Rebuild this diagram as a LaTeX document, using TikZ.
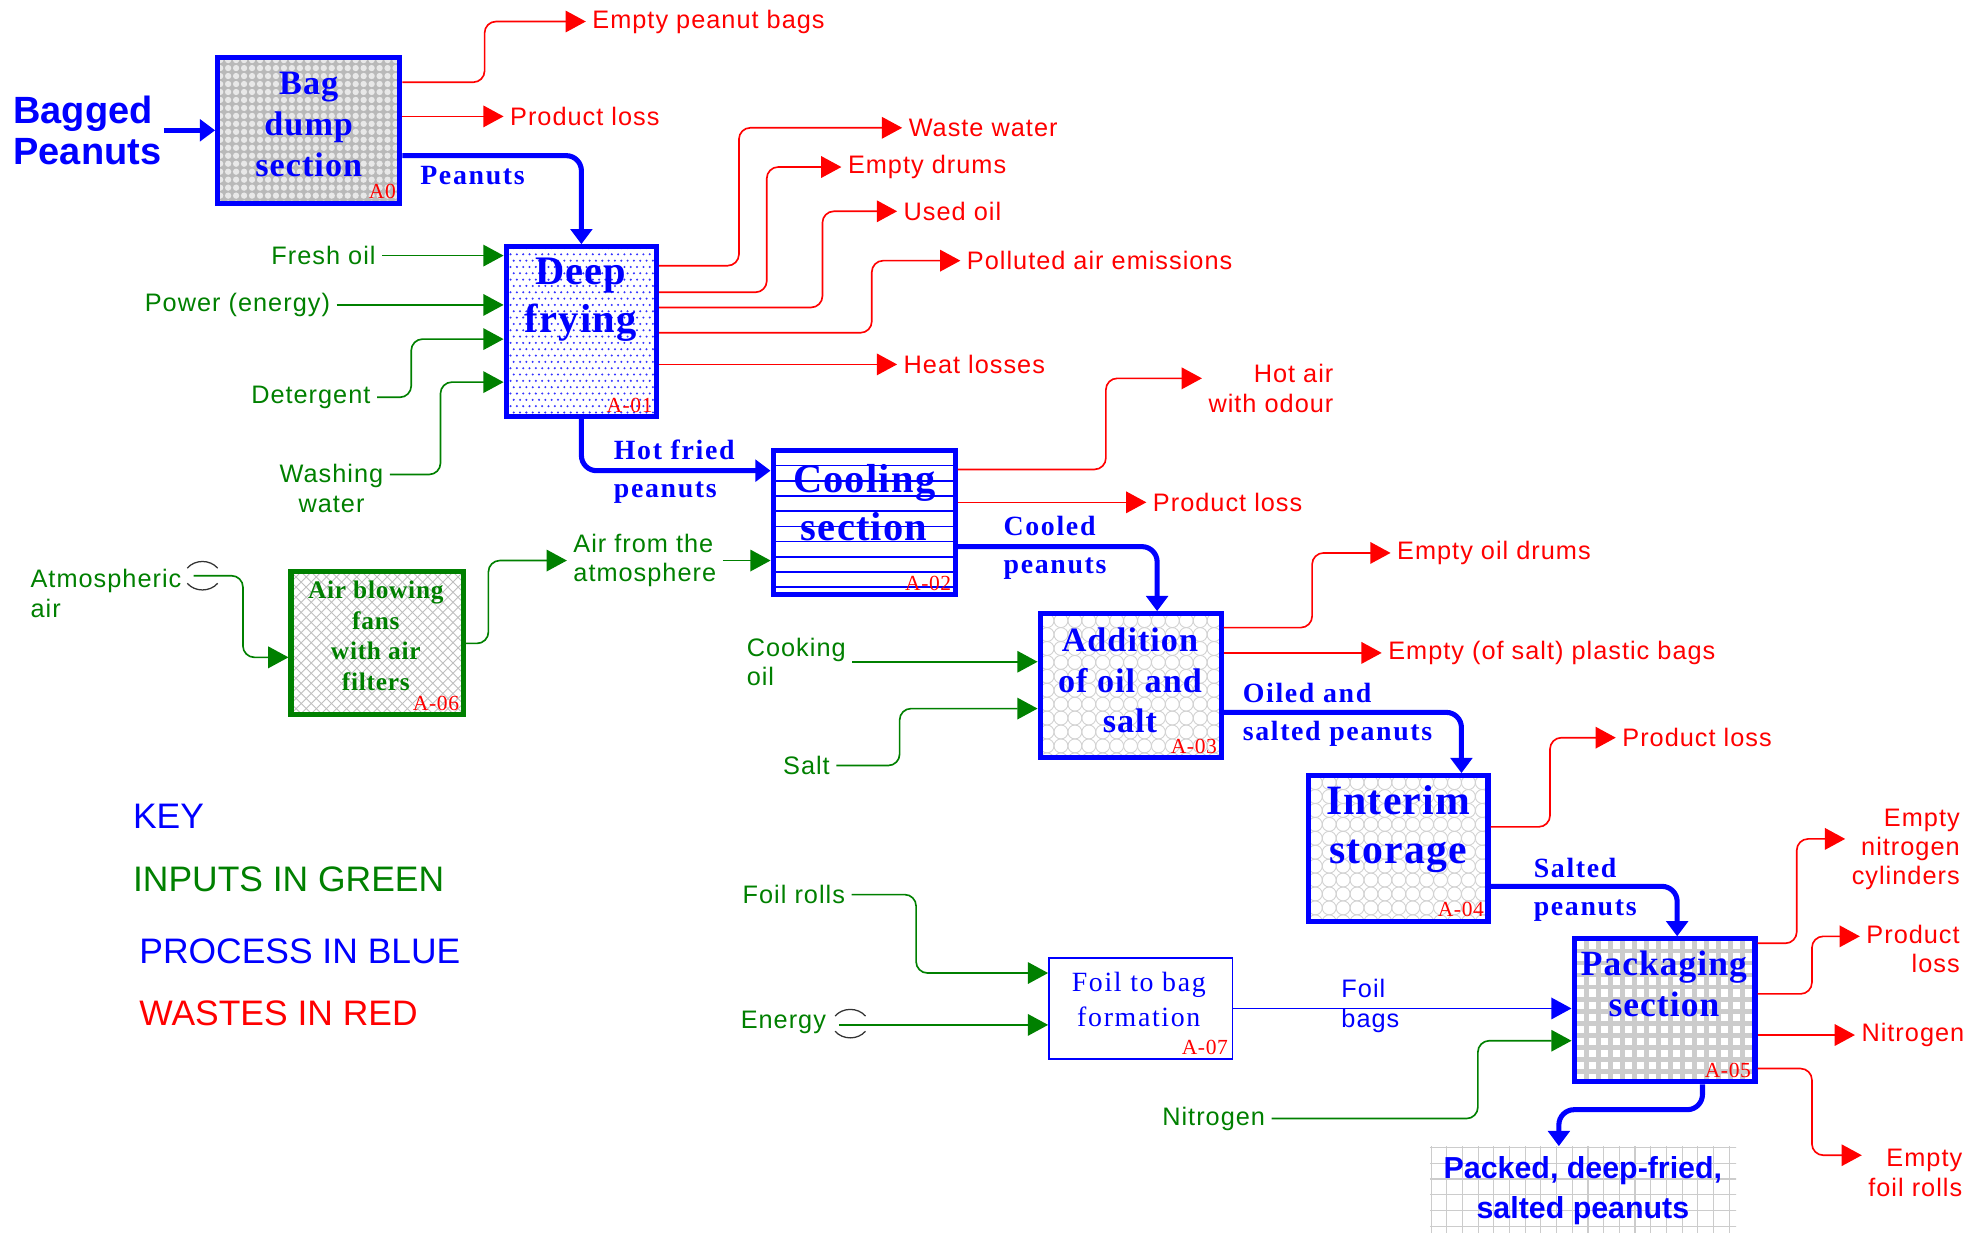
\documentclass[tikz,border=0pt]{standalone}
\usepackage{fontspec}
\setmainfont{Liberation Sans}
\newfontfamily\lblsans{Liberation Sans}[LetterSpace=4]
\newfontfamily\lblserif{Liberation Serif}[LetterSpace=6]
\newfontfamily\ttlserif{Liberation Serif}[LetterSpace=3]
\usetikzlibrary{arrows.meta,positioning}
\definecolor{procblue}{RGB}{0,0,255}
\definecolor{inputgreen}{RGB}{0,128,0}
\definecolor{wastered}{RGB}{255,0,0}

\tikzset{
    box/.style={draw=procblue, line width=4, inner sep=0},
    ttl/.style={text=procblue, align=center, inner sep=0},
    tag/.style={text=wastered, font=\ttlserif\fontsize{17}{17}\selectfont, anchor=south east, inner sep=1},
    wlabel/.style={text=wastered, font=\lblsans\fontsize{20}{23}\selectfont, inner sep=5, align=left},
    ilabel/.style={text=inputgreen, font=\lblsans\fontsize{20}{23}\selectfont, inner sep=5, align=left},
    flabel/.style={text=procblue, font=\lblserif\bfseries\fontsize{22}{30}\selectfont, align=left, anchor=west, inner sep=0},
    keytext/.style={font=\fontsize{28}{32}\selectfont, anchor=west, inner sep=0},
    waste/.style={draw=wastered, line width=1.3, rounded corners=9, -{Triangle[length=16pt,width=17pt]}},
    inflow/.style={draw=inputgreen, line width=1.3, rounded corners=9, -{Triangle[length=16pt,width=17pt]}},
    flow/.style={draw=procblue, line width=4, rounded corners=12, -{Triangle[length=12pt,width=17pt]}},
    thinflow/.style={draw=procblue, line width=1.5, -{Triangle[length=16pt,width=17pt]}},
    % box fillings
    bubbles/.style={fill=gray!55, path picture={
        \foreach \i in {0,...,24} \foreach \j in {0,...,20}
            \fill[gray!18] ([shift={(\i*6.3+2,\j*6.3+2)}]path picture bounding box.north west) circle (2.5);}},
    rings/.style={fill=white, path picture={
        \foreach \i in {0,...,14} \foreach \j in {0,...,11}
            \draw[gray!35, line width=0.7] ([shift={(\i*11+5.5,\j*11+5.5)}]path picture bounding box.north west) circle (5.5);}},
    tiles/.style={fill=gray!40, path picture={
        \foreach \i in {0,...,15} \foreach \j in {0,...,12}
            \fill[white] ([shift={(\i*9.5+2,\j*9.5+2)}]path picture bounding box.north west) rectangle ++(6,6);}},
    lattice/.style={fill=white, path picture={
        \foreach \k in {-20,...,38} {
            \draw[gray!50, line width=0.7] ([shift={(\k*8,0)}]path picture bounding box.north west) -- ++(160,160);
            \draw[gray!50, line width=0.7] ([shift={(\k*8,0)}]path picture bounding box.north west) -- ++(-160,160);}}},
    stripes/.style={fill=white, path picture={
        \foreach \k in {1,...,9}
            \draw[procblue, line width=1.3] ([shift={(0,\k*12)}]path picture bounding box.north west) -- ++(160,0);}},
    meshgrid/.style={fill=white, path picture={
        \foreach \k in {0,...,20}
            \draw[gray!40, line width=0.9] ([shift={(\k*12.4+1,0)}]path picture bounding box.north west) -- ++(0,80);
        \foreach \k in {0,...,6}
            \draw[gray!40, line width=0.9] ([shift={(0,\k*12.4+1)}]path picture bounding box.north west) -- ++(260,0);}},
    dotfill/.style={fill=white, path picture={
        \foreach \i in {0,...,26} \foreach \j in {0,...,14} {
            \fill[procblue!80] ([shift={(\i*5+1,\j*10+1)}]path picture bounding box.north west) circle (0.9);
            \fill[procblue!80] ([shift={(\i*5+3.5,\j*10+6)}]path picture bounding box.north west) circle (0.9);}}}
}

\begin{document}
\begin{tikzpicture}[x=1pt, y=-1pt]

\path[use as bounding box, fill=white] (0,0) rectangle (1568,974);

% Process boxes
\node[box, bubbles, minimum width=144, minimum height=115] (bag) at (244,103) {};
\node[box, dotfill, minimum width=119, minimum height=134] (dfry) at (459.5,262) {};
\node[box, stripes, minimum width=144, minimum height=114] (cool) at (683,413) {};
\node[box, rings, minimum width=143, minimum height=114] (addn) at (893.5,542) {};
\node[box, rings, minimum width=142, minimum height=115] (stor) at (1105,670.5) {};
\node[box, tiles, minimum width=143, minimum height=113] (pack) at (1315.5,798.5) {};
\node[box, lattice, draw=inputgreen, minimum width=136, minimum height=113] (fans) at (298,508.5) {};
\node[box, fill=white, line width=1.3, minimum width=145, minimum height=80] (foil) at (901.5,797) {};
\node[meshgrid, minimum width=242, minimum height=70, text=procblue, align=center,
      font=\bfseries\fontsize{24}{31}\selectfont] (prod) at (1251,941) {Packed, deep-fried,\\salted peanuts};

% Box titles
\node[ttl, font=\ttlserif\bfseries\fontsize{27}{32.5}\selectfont] (bagtxt) at (244,98.5) {Bag\\dump\\section};
\node[ttl, font=\ttlserif\bfseries\fontsize{32}{38}\selectfont] (dfrytxt) at (459,237) {Deep\\frying};
\node[ttl, font=\ttlserif\bfseries\fontsize{32}{38}\selectfont] (cooltxt) at (683,397) {Cooling\\section};
\node[ttl, font=\ttlserif\bfseries\fontsize{27}{32}\selectfont] (addntxt) at (893,538) {Addition\\of oil and\\salt};
\node[ttl, font=\ttlserif\bfseries\fontsize{33}{39}\selectfont] (stortxt) at (1105,655.5) {Interim\\storage};
\node[ttl, font=\ttlserif\bfseries\fontsize{28}{33}\selectfont] (packtxt) at (1315,777.5) {Packaging\\section};
\node[ttl, text=inputgreen, font=\ttlserif\bfseries\fontsize{20}{24}\selectfont] (fanstxt) at (297,502.5) {Air blowing\\fans\\with air\\filters};
\node[ttl, font=\lblserif\fontsize{22}{28}\selectfont] (foiltxt) at (900,790) {Foil to bag\\formation};

% Box tags
\node[tag] (bagtag) at ([xshift=-4pt,yshift=4pt]bag.south east) {A0};
\node[tag] (dfrytag) at ([xshift=-4pt,yshift=4pt]dfry.south east) {A-01};
\node[tag] (cooltag) at ([xshift=-4pt,yshift=4pt]cool.south east) {A-02};
\node[tag] (addntag) at ([xshift=-4pt,yshift=4pt]addn.south east) {A-03};
\node[tag] (stortag) at ([xshift=-4pt,yshift=4pt]stor.south east) {A-04};
\node[tag] (packtag) at ([xshift=-4pt,yshift=4pt]pack.south east) {A-05};
\node[tag] (fanstag) at ([xshift=-4pt,yshift=4pt]fans.south east) {A-06};
\node[tag] (foiltag) at ([xshift=-3pt,yshift=3pt]foil.south east) {A-07};

% Start label and key
\node[text=procblue, font=\bfseries\fontsize{30}{32}\selectfont, align=left, inner sep=2] (bagged) at (69,103) {Bagged\\Peanuts};
\node[keytext, text=procblue] (key) at (105,645) {KEY};
\node[keytext, text=inputgreen] (keyin) at (105,695) {INPUTS IN GREEN};
\node[keytext, text=procblue] (keyproc) at (110,752) {PROCESS IN BLUE};
\node[keytext, text=wastered] (keywaste) at (110,801) {WASTES IN RED};

% Waste labels
\node[wlabel, anchor=west] (epbags) at (463,17) {Empty peanut bags};
\node[wlabel, anchor=west] (ploss0) at (398,92) {Product loss};
\node[wlabel, anchor=west] (wwater) at (713,101) {Waste water};
\node[wlabel, anchor=west] (edrums) at (665,132) {Empty drums};
\node[wlabel, anchor=west] (uoil) at (709,167) {Used oil};
\node[wlabel, anchor=west] (pollut) at (759,206) {Polluted air emissions};
\node[wlabel, anchor=west] (heat) at (709,288) {Heat losses};
\node[wlabel, anchor=east, align=right] (hotair) at (1059,307) {Hot air\\with odour};
\node[wlabel, anchor=west] (ploss2) at (906,397) {Product loss};
\node[wlabel, anchor=west] (eodrums) at (1099,437) {Empty oil drums};
\node[wlabel, anchor=west] (ebags) at (1092,516) {Empty (of salt) plastic bags};
\node[wlabel, anchor=west] (ploss4) at (1277,583) {Product loss};
\node[wlabel, anchor=east, align=right] (encyl) at (1554,671) {Empty\\nitrogen\\cylinders};
\node[wlabel, anchor=east, align=right] (ploss5) at (1554,750) {Product\\loss};
\node[wlabel, anchor=west] (nitro5) at (1466,818) {Nitrogen};
\node[wlabel, anchor=east, align=right] (efoil) at (1556,927) {Empty\\foil rolls};

% Input labels
\node[ilabel, anchor=east] (fresh) at (302,202) {Fresh oil};
\node[ilabel, anchor=east] (power) at (266,241) {Power (energy)};
\node[ilabel, anchor=east] (deterg) at (298,314) {Detergent};
\node[ilabel, align=center] (washw) at (262,386) {Washing\\water};
\node[ilabel, anchor=west] (atmos) at (19,469) {Atmospheric\\air};
\node[ilabel, anchor=west] (airatm) at (448,443) {Air from the\\atmosphere};
\node[ilabel, anchor=west] (cookoil) at (585,523) {Cooking\\oil};
\node[ilabel, anchor=east] (salt) at (661,605) {Salt};
\node[ilabel, anchor=east] (foilr) at (673,707) {Foil rolls};
\node[ilabel, anchor=east] (energy) at (658,808) {Energy};
\node[ilabel, anchor=east] (nitro) at (1005,884) {Nitrogen};

% Flow labels
\node[flabel] (peanuts) at (332,139) {Peanuts};
\node[flabel] (hotfried) at (485,373) {Hot fried\\peanuts};
\node[flabel] (cooled) at (793,433) {Cooled\\peanuts};
\node[flabel] (oiled) at (982,565) {Oiled and\\salted peanuts};
\node[flabel] (saltedp) at (1212,703) {Salted\\peanuts};
\node[text=procblue, font=\lblsans\fontsize{20}{23}\selectfont, align=left, anchor=west, inner sep=0] (foilbags) at (1060,795) {Foil\\bags};

% Source symbols
\coordinate (atsym) at (160,455);
\coordinate (atsrc) at (153,455);
\coordinate (ensym) at (672,809);
\coordinate (ensrc) at (663,810);
\foreach \s in {atsym,ensym} {
    \draw[black!80, line width=1] ([shift={(-12,-6)}]\s) .. controls ([shift={(-6,-13)}]\s) and ([shift={(6,-13)}]\s) .. ([shift={(12,-6)}]\s);
    \draw[black!80, line width=1] ([shift={(-12,6)}]\s) .. controls ([shift={(-6,13)}]\s) and ([shift={(6,13)}]\s) .. ([shift={(12,6)}]\s);
}

% Wastes
\draw[waste] ([yshift=38pt]bag.east) -- ++(65,0) |- (epbags.west);
\draw[waste] (bag.east |- ploss0.west) -- (ploss0.west);
\draw[waste] ([yshift=52pt]dfry.east) -- ++(63,0) |- (wwater.west);
\draw[waste] ([yshift=31pt]dfry.east) -- ++(85,0) |- (edrums.west);
\draw[waste] ([yshift=19pt]dfry.east) -- ++(129,0) |- (uoil.west);
\draw[waste] ([yshift=-1pt]dfry.east) -- ++(168,0) |- (pollut.west);
\draw[waste] (dfry.east |- heat.west) -- (heat.west);
\draw[waste] ([yshift=42pt]cool.east) -- ++(117,0) |- ([yshift=8pt]hotair.west);
\draw[waste] (cool.east |- ploss2.west) -- (ploss2.west);
\draw[waste] ([yshift=46pt]addn.east) -- ++(70,0) |- (eodrums.west);
\draw[waste] (addn.east |- ebags.west) -- (ebags.west);
\draw[waste] ([yshift=17pt]stor.east) -- ++(47,0) |- (ploss4.west);
\draw[waste] ([yshift=53pt]pack.east) -- ++(31,0) |- ([yshift=8pt]encyl.west);
\draw[waste] ([yshift=13pt]pack.east) -- ++(43,0) |- ([yshift=10pt]ploss5.west);
\draw[waste] (pack.east |- nitro5.west) -- (nitro5.west);
\draw[waste] ([yshift=-46pt]pack.east) -- ++(43,0) |- ([yshift=14pt]efoil.west);

% Inputs
\draw[inflow] (fresh.east) -- (dfry.west |- fresh.east);
\draw[inflow] (power.east) -- (dfry.west |- power.east);
\draw[inflow] (deterg.east) -- ++(27,0) |- ([yshift=-6pt]dfry.west);
\draw[inflow] ([yshift=11pt]washw.east) -- ++(40,0) |- ([yshift=-40pt]dfry.west);
\draw[inflow] (atsrc) -- ++(39,0) |- ([yshift=-11pt]fans.west);
\draw[inflow] (fans.east) -- ++(18,0) |- (airatm.west);
\draw[inflow] (airatm.east) -- (cool.west |- airatm.east);
\draw[inflow] (cookoil.east) -- (addn.west |- cookoil.east);
\draw[inflow] (salt.east) -- ++(50,0) |- ([yshift=-18pt]addn.west);
\draw[inflow] (foilr.east) -- ++(51,0) |- ([yshift=28pt]foil.west);
\draw[inflow] (ensrc) -- (foil.west |- ensrc);
\draw[inflow] (nitro.east) -- ++(163,0) |- ([yshift=-24pt]pack.west);

% Main product flow
\draw[flow] (bagged.east) -- (bag.west);
\draw[flow] ([yshift=-20pt]bag.east) -| (dfry.north);
\draw[flow] (dfry.south) |- ([yshift=41pt]cool.west);
\draw[flow] ([yshift=-19pt]cool.east) -| ([xshift=21pt]addn.north);
\draw[flow] ([yshift=-21pt]addn.east) -| ([xshift=50pt]stor.north);
\draw[flow] ([yshift=-30pt]stor.east) -| ([xshift=10pt]pack.north);
\draw[thinflow] (foil.east) -- (pack.west |- foil.east);
\draw[flow] ([xshift=30pt]pack.south) -- ++(0,20) -| ([xshift=-19pt]prod.north);

\end{tikzpicture}
\end{document}
